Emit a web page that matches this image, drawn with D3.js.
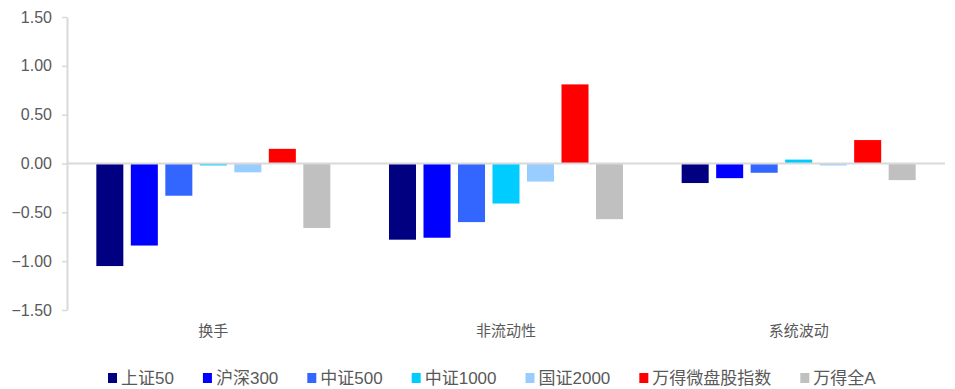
<!DOCTYPE html>
<html>
<head>
<meta charset="utf-8">
<script src="https://cdn.jsdelivr.net/npm/d3@7/dist/d3.min.js"></script>
<style>
  html, body { margin: 0; padding: 0; background: #fff; }
  svg { display: block; }
</style>
</head>
<body>
<svg id="chart" width="955" height="389"></svg>
<script>
// Factor exposures by index
const categories = ["换手", "非流动性", "系统波动"];
const seriesNames = ["上证50", "沪深300", "中证500", "中证1000", "国证2000", "万得微盘股指数", "万得全A"];
const seriesColors = ["#000080", "#0000FF", "#3366FF", "#00CCFF", "#99CCFF", "#FF0000", "#C0C0C0"];
const sz50 = [-1.05, -0.78, -0.20];
const hs300 = [-0.84, -0.76, -0.15];
const zz500 = [-0.33, -0.60, -0.095];
const zz1000 = [-0.02, -0.41, 0.04];
const gz2000 = [-0.09, -0.185, -0.02];
const microCap = [0.15, 0.81, 0.24];
const windA = [-0.66, -0.57, -0.17];
const yTicks = [1.5, 1.0, 0.5, 0.0, -0.5, -1.0, -1.5];

const seriesValues = [sz50, hs300, zz500, zz1000, gz2000, microCap, windA];

const svg = d3.select("#chart");
const plotLeft = 67, plotRight = 945, plotTop = 17, plotBottom = 310;
const textColor = "#595959";
const gridColor = "#d9d9d9";

const y = d3.scaleLinear().domain([-1.5, 1.5]).range([plotBottom, plotTop]);
const x0 = d3.scaleBand().domain(categories).range([plotLeft, plotRight]).padding(0);
const x1 = d3.scaleBand().domain(seriesNames).range([0, x0.bandwidth()])
  .paddingInner(0.217).paddingOuter(0.85);

// Y axis
const yAxis = d3.axisLeft(y).tickValues(yTicks).tickFormat(d3.format(".2f")).tickSize(5).tickSizeOuter(0);
const gy = svg.append("g").attr("transform", `translate(${plotLeft},0)`).call(yAxis);
gy.select(".domain").attr("stroke", gridColor).attr("stroke-width", 2);
gy.selectAll(".tick line").attr("stroke", gridColor).attr("stroke-width", 1.5);
gy.selectAll(".tick text")
  .attr("x", -15)
  .attr("fill", textColor)
  .style("font-family", "'Liberation Sans', Arial, sans-serif")
  .style("font-size", "16px");

// Bars
const groups = svg.append("g").selectAll("g")
  .data(categories)
  .join("g")
  .attr("transform", d => `translate(${x0(d)},0)`);

groups.selectAll("rect")
  .data((c, ci) => seriesNames.map((s, si) => ({ s, si, v: seriesValues[si][ci] })))
  .join("rect")
  .attr("x", d => x1(d.s))
  .attr("width", x1.bandwidth())
  .attr("y", d => y(Math.max(0, d.v)))
  .attr("height", d => Math.abs(y(d.v) - y(0)))
  .attr("fill", d => seriesColors[d.si]);

// Zero line
svg.append("line")
  .attr("x1", plotLeft).attr("x2", plotRight)
  .attr("y1", y(0)).attr("y2", y(0))
  .attr("stroke", gridColor).attr("stroke-width", 2);

// Category labels
svg.append("g").selectAll("text")
  .data(categories)
  .join("text")
  .attr("x", d => x0(d) + x0.bandwidth() / 2)
  .attr("y", 336)
  .attr("text-anchor", "middle")
  .attr("fill", textColor)
  .style("font-family", "'Noto Sans CJK SC', sans-serif")
  .style("font-size", "15px")
  .text(d => d);

// Legend
const legend = svg.append("g").attr("transform", "translate(108,378)");
let lx = 0;
seriesNames.forEach((name, i) => {
  const item = legend.append("g").attr("transform", `translate(${lx},0)`);
  item.append("rect").attr("x", 0).attr("y", -5).attr("width", 9).attr("height", 10).attr("fill", seriesColors[i]);
  const t = item.append("text")
    .attr("x", 13).attr("y", 6)
    .attr("fill", textColor)
    .style("font-family", "'Liberation Sans', 'Noto Sans CJK SC', sans-serif")
    .style("font-size", "17px")
    .text(name);
  lx += 13 + t.node().getComputedTextLength() + 29;
});
</script>
</body>
</html>
